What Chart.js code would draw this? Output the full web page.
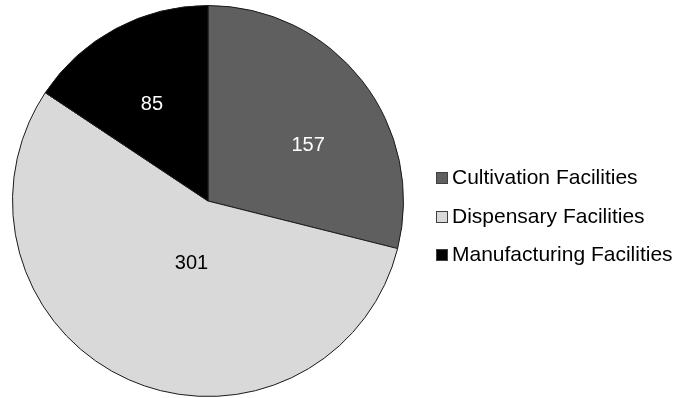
<!DOCTYPE html>
<html lang="en">
  <head>
    <meta charset="utf-8" />
    <title>Facilities pie</title>
    <style>
      * {
        margin: 0;
        padding: 0;
        font-family: "Liberation Sans", Arial, sans-serif;
      }
      body {
        background: #fff;
      }
      .chartBox {
        position: relative;
        width: 677px;
        height: 398px;
      }
      .legend {
        position: absolute;
        left: 436px;
        top: 163px;
      }
      .legend div {
        height: 38.5px;
        line-height: 28px;
        font-size: 21px;
        color: #000;
        white-space: nowrap;
      }
      .legend span {
        display: inline-block;
        width: 10px;
        height: 10px;
        border: 1px solid #404040;
        margin-right: 4px;
        vertical-align: 0px;
      }
    </style>
  </head>
  <body>
    <div class="chartBox">
      <canvas id="myChart"></canvas>
      <div class="legend" id="legend"></div>
    </div>

    <script src="https://cdn.jsdelivr.net/npm/chart.js"></script>

    <script>
      const categories = ["Cultivation Facilities", "Dispensary Facilities", "Manufacturing Facilities"];
      const counts = [157, 301, 85];
      const sliceColors = ["#5f5f5f", "#d9d9d9", "#000000"];
      const labelColors = ["#ffffff", "#000000", "#ffffff"];
      // where each value label sits: fraction of radius, and angle nudge (deg)
      const labelRadius = [0.585, 0.33, 0.57];
      const labelNudge = [9, -9, -2];

      // build legend
      const legend = document.getElementById("legend");
      categories.forEach((c, i) => {
        const row = document.createElement("div");
        const sw = document.createElement("span");
        sw.style.background = sliceColors[i];
        row.appendChild(sw);
        row.appendChild(document.createTextNode(c));
        legend.appendChild(row);
      });

      // value labels
      const valueLabels = {
        id: "valueLabels",
        afterDatasetsDraw(chart) {
          const ctx = chart.ctx;
          const meta = chart.getDatasetMeta(0);
          ctx.save();
          ctx.font = "20px 'Liberation Sans', Arial, sans-serif";
          ctx.textAlign = "center";
          ctx.textBaseline = "middle";
          meta.data.forEach((arc, i) => {
            const p = arc.getProps(["x", "y", "startAngle", "endAngle", "outerRadius"], true);
            const mid = (p.startAngle + p.endAngle) / 2 + (labelNudge[i] * Math.PI) / 180;
            const r = p.outerRadius * labelRadius[i];
            ctx.fillStyle = labelColors[i];
            ctx.fillText(counts[i], p.x + Math.cos(mid) * r, p.y + Math.sin(mid) * r);
          });
          ctx.restore();
        },
      };

      const data = {
        labels: categories,
        datasets: [
          {
            data: counts,
            backgroundColor: sliceColors,
            borderColor: "#1a1a1a",
            borderWidth: 1,
          },
        ],
      };

      const config = {
        type: "pie",
        data: data,
        options: {
          responsive: true,
          maintainAspectRatio: false,
          animation: false,
          layout: {
            padding: { left: 12, right: 273, top: 5, bottom: 1 },
          },
          plugins: {
            legend: { display: false },
            tooltip: { enabled: false },
          },
        },
        plugins: [valueLabels],
      };

      const myChart = new Chart(document.getElementById("myChart"), config);
    </script>
  </body>
</html>
